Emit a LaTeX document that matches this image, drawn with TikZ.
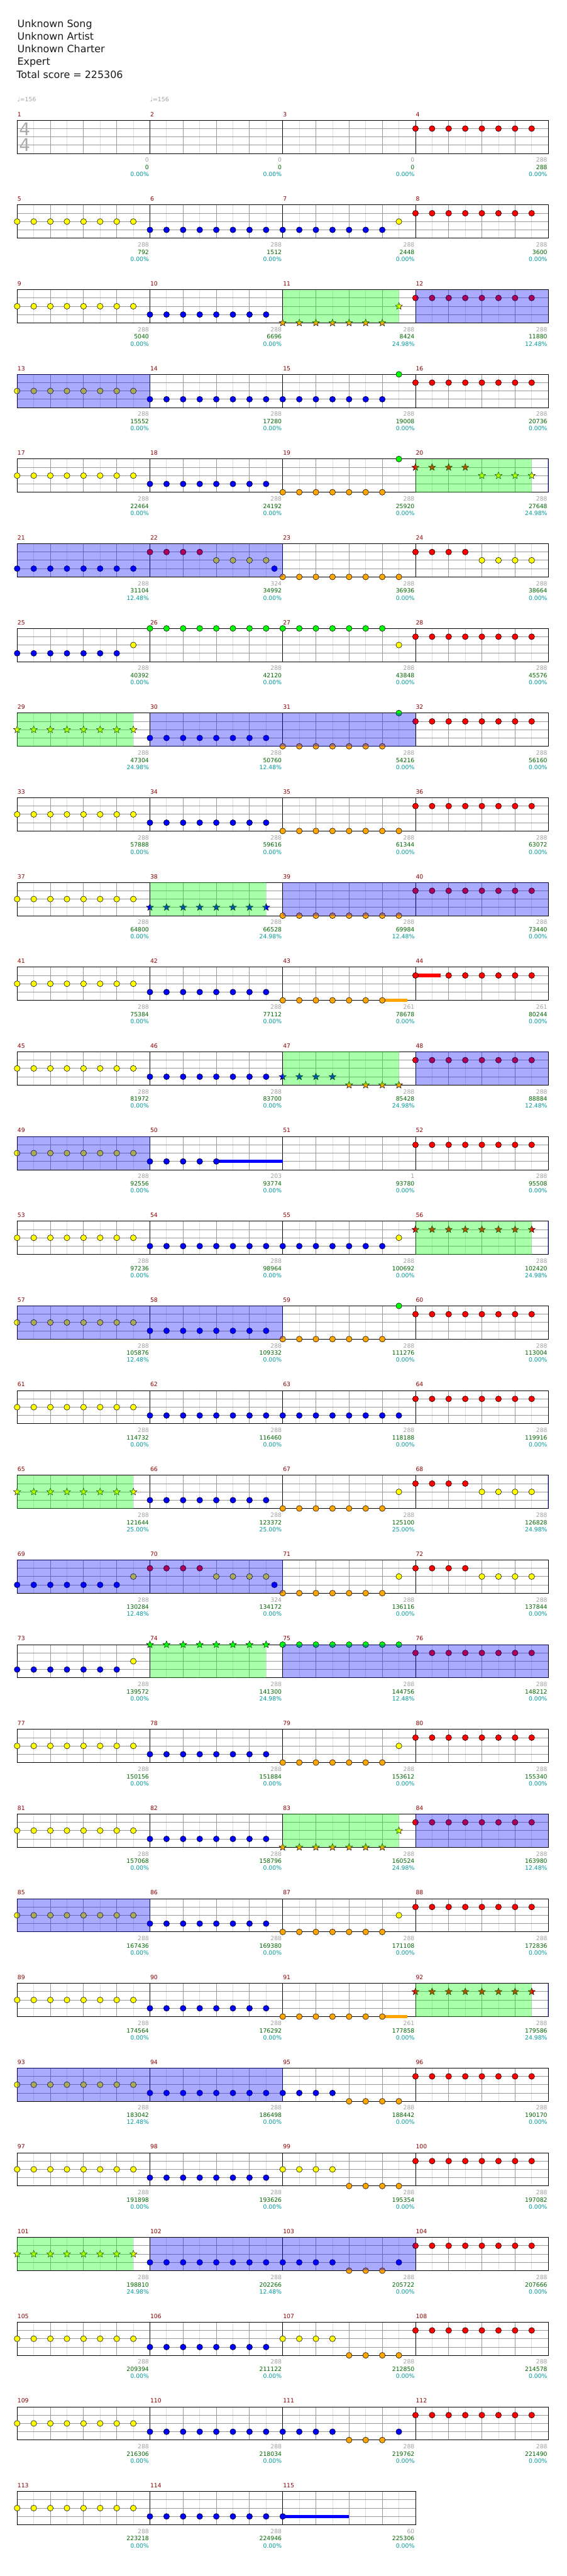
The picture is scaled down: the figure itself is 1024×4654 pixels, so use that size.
\documentclass[tikz,border=0pt]{standalone}
\usepackage{fontspec}
\setmainfont{DejaVu Sans}
\usetikzlibrary{shapes.geometric}

\definecolor{fretG}{RGB}{0,255,0}
\definecolor{fretR}{RGB}{255,0,0}
\definecolor{fretY}{RGB}{255,255,0}
\definecolor{fretB}{RGB}{0,0,255}
\definecolor{fretO}{RGB}{255,165,0}
\definecolor{barred}{RGB}{139,0,0}
\definecolor{ptsgray}{RGB}{160,160,160}
\definecolor{ptsgreen}{RGB}{0,100,0}
\definecolor{ptscyan}{RGB}{0,153,153}
\definecolor{gridgray}{RGB}{153,153,153}
\definecolor{gridlight}{RGB}{221,221,221}
\definecolor{sigray}{RGB}{170,170,170}

\newcommand\laneG{0}
\newcommand\laneR{1}
\newcommand\laneY{2}
\newcommand\laneB{3}
\newcommand\laneO{4}
\newcommand\smallfont{\fontsize{6}{7}\selectfont}

% measure number -> \barx, \bary (left end and top of its staff)
\newcommand\barpos[1]{%
  \pgfmathtruncatemacro\barrow{(#1-1)/4}%
  \pgfmathtruncatemacro\barcol{#1-1-4*\barrow}%
  \pgfmathsetmacro\barx{31+240*\barcol}%
  \pgfmathsetmacro\bary{217.3+153*\barrow}}
\newcommand\gem[3]{\barpos{#1}\pgfmathtruncatemacro\gk{2*#3}%
  \node[note, fill=fret#2] (n#1#2\gk) at ({\barx+30*#3},{\bary+15*\csname lane#2\endcsname}) {};}
\newcommand\sgem[3]{\barpos{#1}\pgfmathtruncatemacro\gk{2*#3}%
  \node[spnote, fill=fret#2] (s#1#2\gk) at ({\barx+30*#3},{\bary+15*\csname lane#2\endcsname}) {};}
\newcommand\gems[4]{\foreach \k in {#3,...,#4}{\gem{#1}{#2}{\k}}}
\newcommand\sgems[4]{\foreach \k in {#3,...,#4}{\sgem{#1}{#2}{\k}}}
\newcommand\sustain[4]{\barpos{#1}%
  \fill[fret#2] ({\barx+30*#3},{\bary+15*\csname lane#2\endcsname-3}) rectangle ++(#4,6);}
\newcommand\solo[2]{\barpos{#2}\pgfmathsetmacro\soloend{\barx+240}\barpos{#1}%
  \fill[soloband] (\barx,\bary) rectangle (\soloend,\bary+60);}
\newcommand\soloedge[1]{\barpos{#1}\fill[soloband] (990.2,\bary) rectangle ++(1.6,60);}
\newcommand\spark[1]{\barpos{#1}\fill[spband] (\barx,\bary) rectangle ++(210,60);}

\begin{document}
\begin{tikzpicture}[x=0.02cm, y=-0.02cm,
    note/.style={circle, draw=black, line width=0.35pt, minimum size=2.12mm, inner sep=0pt},
    spnote/.style={star, star points=5, star point ratio=2.3, draw=black, line width=0.3pt, minimum size=2.7mm, inner sep=0pt},
    grid8/.style={draw=gridlight, line width=0.57pt},
    grid4/.style={draw=gridgray, line width=0.57pt},
    barline/.style={draw=black, line width=0.57pt},
    soloband/.style={fill=blue, fill opacity=0.333},
    spband/.style={fill=green, fill opacity=0.333},
    titletext/.style={anchor=base west, inner sep=0pt, text=black!90, font=\fontsize{10.3}{13}\selectfont},
    tempo/.style={anchor=base west, inner sep=0pt, text=ptsgray, font=\smallfont},
    timesig/.style={inner sep=0pt, text=sigray, font=\fontsize{18}{18}\selectfont},
    barnum/.style={anchor=base west, inner sep=0pt, text=barred, font=\smallfont},
    ptsbar/.style={anchor=base east, inner sep=0pt, text=ptsgray, font=\smallfont},
    ptstotal/.style={anchor=base east, inner sep=0pt, text=ptsgreen, font=\smallfont},
    ptspct/.style={anchor=base east, inner sep=0pt, text=ptscyan, font=\smallfont}
]
    \useasboundingbox (0,0) rectangle (1024,4654);

    \node[titletext] (song) at (31,49.3) {Unknown Song};
    \node[titletext] (artist) at (31,72) {Unknown Artist};
    \node[titletext] (charter) at (31,95) {Unknown Charter};
    \node[titletext] (level) at (31,118) {Expert};
    \node[titletext] (total) at (29.5,141) {Total score = 225306};
    \node[tempo] (bpm1) at (31,184) {♩=156};
    \node[tempo] (bpm2) at (271,184) {♩=156};

    \foreach \r in {0,...,28}{
        \pgfmathsetmacro\ty{217.3+153*\r}
        \pgfmathtruncatemacro\w{\r==28 ? 720 : 960}
        \pgfmathtruncatemacro\wl{\w-30}
        \foreach \k in {30,90,...,\wl} \draw[grid8] (31+\k,\ty) -- ++(0,60);
        \foreach \k in {60,120,...,\w} \draw[grid4] (31+\k,\ty) -- ++(0,60);
        \foreach \l in {15,30,45} \draw[grid4] (31,\ty+\l) -- ++(\w,0);
        \foreach \k in {240,480,...,\w} \draw[barline] (31+\k,\ty) -- ++(0,60);
        \draw[barline] (31,\ty) rectangle ++(\w,60);
    }
    \node[timesig] (tsnum) at (44.5,233.3) {4};
    \node[timesig] (tsden) at (44.5,262.3) {4};

    \gems{4}{R}{0}{7}
    \gems{5}{Y}{0}{7} \gems{6}{B}{0}{7} \gems{7}{B}{0}{6} \gem{7}{Y}{7} \gems{8}{R}{0}{7}
    \gems{9}{Y}{0}{7} \gems{10}{B}{0}{7} \sgems{11}{O}{0}{6} \sgem{11}{Y}{7} \gems{12}{R}{0}{7}
    \gems{13}{Y}{0}{7} \gems{14}{B}{0}{7} \gems{15}{B}{0}{6} \gem{15}{G}{7} \gems{16}{R}{0}{7}
    \gems{17}{Y}{0}{7} \gems{18}{B}{0}{7} \gems{19}{O}{0}{6} \gem{19}{G}{7} \sgems{20}{R}{0}{3} \sgems{20}{Y}{4}{7}
    \gems{21}{B}{0}{7} \gems{22}{R}{0}{3} \gems{22}{Y}{4}{7} \gem{22}{B}{7.5} \gems{23}{O}{0}{7} \gems{24}{R}{0}{3} \gems{24}{Y}{4}{7}
    \gems{25}{B}{0}{6} \gem{25}{Y}{7} \gems{26}{G}{0}{7} \gems{27}{G}{0}{6} \gem{27}{Y}{7} \gems{28}{R}{0}{7}
    \sgems{29}{Y}{0}{7} \gems{30}{B}{0}{7} \gems{31}{O}{0}{6} \gem{31}{G}{7} \gems{32}{R}{0}{7}
    \gems{33}{Y}{0}{7} \gems{34}{B}{0}{7} \gems{35}{O}{0}{7} \gems{36}{R}{0}{7}
    \gems{37}{Y}{0}{7} \sgems{38}{B}{0}{7} \gems{39}{O}{0}{7} \gems{40}{R}{0}{7}
    \gems{41}{Y}{0}{7} \gems{42}{B}{0}{7} \sustain{43}{O}{6}{45} \gems{43}{O}{0}{6} \sustain{44}{R}{0}{45} \gem{44}{R}{0} \gems{44}{R}{2}{7}
    \gems{45}{Y}{0}{7} \gems{46}{B}{0}{7} \sgems{47}{B}{0}{3} \sgems{47}{O}{4}{7} \gems{48}{R}{0}{7}
    \gems{49}{Y}{0}{7} \sustain{50}{B}{4}{120} \gems{50}{B}{0}{4} \gems{52}{R}{0}{7}
    \gems{53}{Y}{0}{7} \gems{54}{B}{0}{7} \gems{55}{B}{0}{6} \gem{55}{Y}{7} \sgems{56}{R}{0}{7}
    \gems{57}{Y}{0}{7} \gems{58}{B}{0}{7} \gems{59}{O}{0}{6} \gem{59}{G}{7} \gems{60}{R}{0}{7}
    \gems{61}{Y}{0}{7} \gems{62}{B}{0}{7} \gems{63}{B}{0}{7} \gems{64}{R}{0}{7}
    \sgems{65}{Y}{0}{7} \gems{66}{B}{0}{7} \gems{67}{O}{0}{6} \gem{67}{Y}{7} \gems{68}{R}{0}{3} \gems{68}{Y}{4}{7}
    \gems{69}{B}{0}{6} \gem{69}{Y}{7} \gems{70}{R}{0}{3} \gems{70}{Y}{4}{7} \gem{70}{B}{7.5} \gems{71}{O}{0}{6} \gem{71}{Y}{7} \gems{72}{R}{0}{3} \gems{72}{Y}{4}{7}
    \gems{73}{B}{0}{6} \gem{73}{Y}{7} \sgems{74}{G}{0}{7} \gems{75}{G}{0}{7} \gems{76}{R}{0}{7}
    \gems{77}{Y}{0}{7} \gems{78}{B}{0}{7} \gems{79}{O}{0}{6} \gem{79}{Y}{7} \gems{80}{R}{0}{7}
    \gems{81}{Y}{0}{7} \gems{82}{B}{0}{7} \sgems{83}{O}{0}{6} \sgem{83}{Y}{7} \gems{84}{R}{0}{7}
    \gems{85}{Y}{0}{7} \gems{86}{B}{0}{7} \gems{87}{O}{0}{6} \gem{87}{Y}{7} \gems{88}{R}{0}{7}
    \gems{89}{Y}{0}{7} \gems{90}{B}{0}{7} \sustain{91}{O}{6}{45} \gems{91}{O}{0}{6} \sgems{92}{R}{0}{7}
    \gems{93}{Y}{0}{7} \gems{94}{B}{0}{7} \gems{95}{B}{0}{3} \gems{95}{O}{4}{7} \gems{96}{R}{0}{7}
    \gems{97}{Y}{0}{7} \gems{98}{B}{0}{7} \gems{99}{Y}{0}{3} \gems{99}{O}{4}{7} \gems{100}{R}{0}{7}
    \sgems{101}{Y}{0}{7} \gems{102}{B}{0}{7} \gems{103}{B}{0}{3} \gems{103}{O}{4}{6} \gem{103}{B}{7} \gems{104}{R}{0}{7}
    \gems{105}{Y}{0}{7} \gems{106}{B}{0}{7} \gems{107}{Y}{0}{3} \gems{107}{O}{4}{7} \gems{108}{R}{0}{7}
    \gems{109}{Y}{0}{7} \gems{110}{B}{0}{7} \gems{111}{B}{0}{3} \gems{111}{O}{4}{6} \gem{111}{B}{7} \gems{112}{R}{0}{7}
    \gems{113}{Y}{0}{7} \gems{114}{B}{0}{7} \sustain{115}{B}{0}{120} \gem{115}{B}{0}

    \foreach \m in {11,20,29,38,47,56,65,74,83,92,101} {\spark{\m}}
    \foreach \a/\b in {12/12,13/13,21/22,30/31,39/40,48/48,49/49,57/58,69/70,75/76,84/84,85/85,93/94,102/103} {\solo{\a}{\b}}
    \foreach \m in {20,56,68,92} {\soloedge{\m}}

    \foreach \g/\s/\p [count=\m] in {0/0/0.00,0/0/0.00,0/0/0.00,288/288/0.00,
        288/792/0.00,288/1512/0.00,288/2448/0.00,288/3600/0.00,
        288/5040/0.00,288/6696/0.00,288/8424/24.98,288/11880/12.48,
        288/15552/0.00,288/17280/0.00,288/19008/0.00,288/20736/0.00,
        288/22464/0.00,288/24192/0.00,288/25920/0.00,288/27648/24.98,
        288/31104/12.48,324/34992/0.00,288/36936/0.00,288/38664/0.00,
        288/40392/0.00,288/42120/0.00,288/43848/0.00,288/45576/0.00,
        288/47304/24.98,288/50760/12.48,288/54216/0.00,288/56160/0.00,
        288/57888/0.00,288/59616/0.00,288/61344/0.00,288/63072/0.00,
        288/64800/0.00,288/66528/24.98,288/69984/12.48,288/73440/0.00,
        288/75384/0.00,288/77112/0.00,261/78678/0.00,261/80244/0.00,
        288/81972/0.00,288/83700/0.00,288/85428/24.98,288/88884/12.48,
        288/92556/0.00,203/93774/0.00,1/93780/0.00,288/95508/0.00,
        288/97236/0.00,288/98964/0.00,288/100692/0.00,288/102420/24.98,
        288/105876/12.48,288/109332/0.00,288/111276/0.00,288/113004/0.00,
        288/114732/0.00,288/116460/0.00,288/118188/0.00,288/119916/0.00,
        288/121644/25.00,288/123372/25.00,288/125100/25.00,288/126828/24.98,
        288/130284/12.48,324/134172/0.00,288/136116/0.00,288/137844/0.00,
        288/139572/0.00,288/141300/24.98,288/144756/12.48,288/148212/0.00,
        288/150156/0.00,288/151884/0.00,288/153612/0.00,288/155340/0.00,
        288/157068/0.00,288/158796/0.00,288/160524/24.98,288/163980/12.48,
        288/167436/0.00,288/169380/0.00,288/171108/0.00,288/172836/0.00,
        288/174564/0.00,288/176292/0.00,261/177858/0.00,288/179586/24.98,
        288/183042/12.48,288/186498/0.00,288/188442/0.00,288/190170/0.00,
        288/191898/0.00,288/193626/0.00,288/195354/0.00,288/197082/0.00,
        288/198810/24.98,288/202266/12.48,288/205722/0.00,288/207666/0.00,
        288/209394/0.00,288/211122/0.00,288/212850/0.00,288/214578/0.00,
        288/216306/0.00,288/218034/0.00,288/219762/0.00,288/221490/0.00,
        288/223218/0.00,288/224946/0.00,60/225306/0.00}{
        \barpos{\m}
        \node[barnum] (bar\m) at (\barx+0.3,\bary-7) {\m};
        \node[ptsbar] (pts\m) at (\barx+238.5,\bary+75.7) {\g};
        \node[ptstotal] (tot\m) at (\barx+238.5,\bary+89) {\s};
        \node[ptspct] (pct\m) at (\barx+238.5,\bary+101.7) {\p\%};
    }
\end{tikzpicture}
\end{document}
